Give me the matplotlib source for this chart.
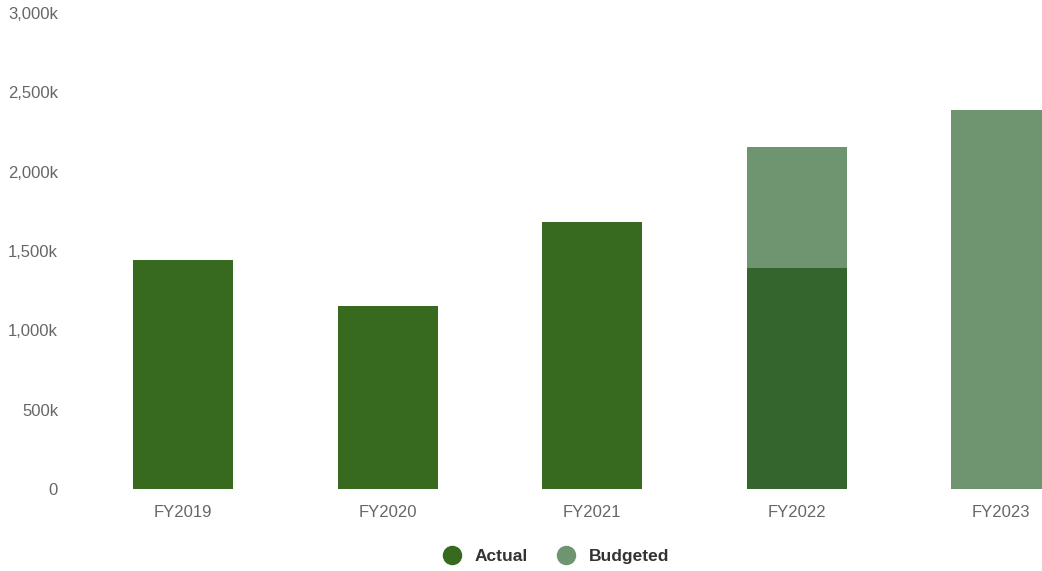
import numpy as np
import matplotlib.pyplot as plt
from matplotlib.lines import Line2D
from matplotlib.ticker import FuncFormatter

plt.rcParams['font.family'] = ['Liberation Sans', 'DejaVu Sans']

# data (values in thousands)
years = ["FY2019", "FY2020", "FY2021", "FY2022", "FY2023"]
actual = [1445, 1155, 1685, 1390, 0]
budgeted = [0, 0, 0, 2155, 2390]   # budget totals where shown

ACTUAL_C = "#37691f"
ACTUAL_C_22 = "#33652d"
BUDGET_C = "#6e9470"

W, H = 1042, 571
fig = plt.figure(figsize=(W / 100, H / 100), dpi=100)
# plot area runs past the right edge, as in the original
x0, x1, ytop, ybot = 81, 1103.5, 13, 489
ax = fig.add_axes([x0 / W, (H - ybot) / H, (x1 - x0) / W, (ybot - ytop) / H])

x = np.arange(len(years))
bw = 100 / 204.5

ax.bar(x, budgeted, width=bw, color=BUDGET_C, zorder=2)
act_colors = [ACTUAL_C, ACTUAL_C, ACTUAL_C, ACTUAL_C_22, ACTUAL_C]
ax.bar(x, actual, width=bw, color=act_colors, zorder=3)

ax.set_xlim(-0.5, len(years) - 0.5)
ax.set_ylim(0, 3000)
ax.set_yticks(np.arange(0, 3001, 500))
ax.yaxis.set_major_formatter(FuncFormatter(lambda v, p: "0" if v == 0 else f"{int(v):,}k"))
ax.set_xticks(x)
ax.set_xticklabels(years)

for s in ax.spines.values():
    s.set_visible(False)
ax.tick_params(axis="both", length=0, labelsize=12, colors="#666666")
ax.tick_params(axis="y", pad=16.5)
ax.tick_params(axis="x", pad=11.5)

handles = [
    Line2D([], [], marker="o", linestyle="", markersize=13, color=ACTUAL_C, label="Actual"),
    Line2D([], [], marker="o", linestyle="", markersize=13, color=BUDGET_C, label="Budgeted"),
]
fig.legend(handles=handles, loc="center", bbox_to_anchor=(552 / W, (H - 556.5) / H),
           ncol=2, frameon=False, handletextpad=0.3, columnspacing=1.2,
           prop={"weight": "bold", "size": 12.5}, labelcolor="#333333")

fig.savefig("out.png", dpi=100)
